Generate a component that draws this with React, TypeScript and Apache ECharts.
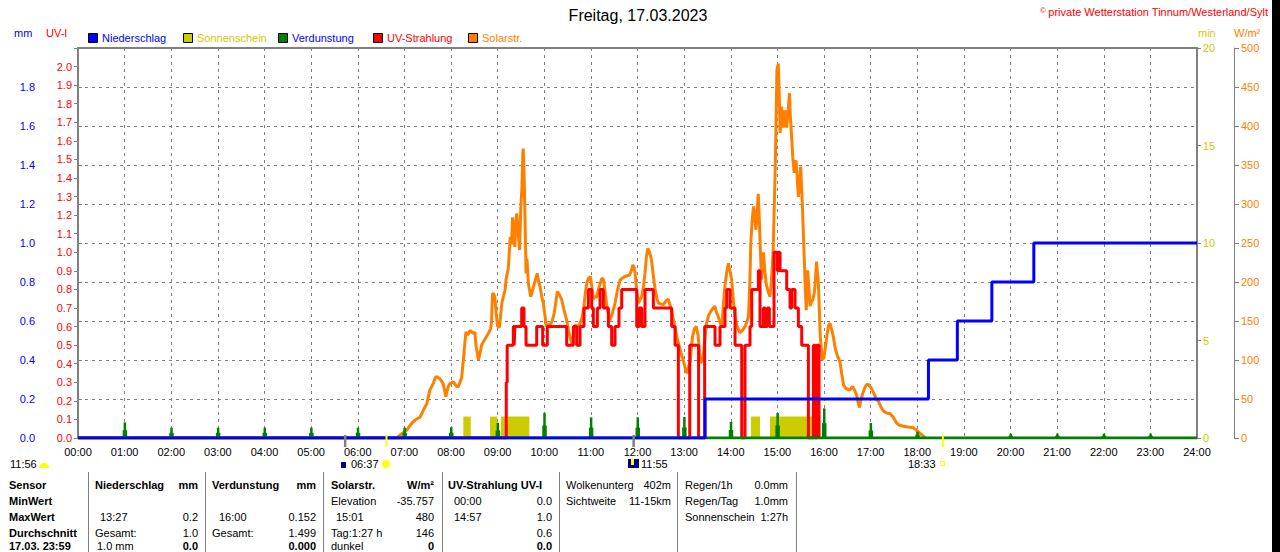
import React, { useEffect, useRef } from 'react';
import * as echarts from 'echarts';

const FONT = '"Liberation Sans", Arial, sans-serif';

const X_TICK_LABELS = ['00:00','01:00','02:00','03:00','04:00','05:00','06:00','07:00','08:00','09:00','10:00','11:00','12:00','13:00','14:00','15:00','16:00','17:00','18:00','19:00','20:00','21:00','22:00','23:00','24:00'];

// Niederschlag cumulative (mm) [hour, value]
const RAIN: number[][] = [[0,0],[13.45,0.2],[18.24,0.4],[18.86,0.6],[19.6,0.8],[20.5,1.0],[24,1.0]];

// Sonnenschein (min) [start hour, end hour, minutes]
const SUNSHINE: number[][] = [[8.264,8.423,1.1],[8.837,8.993,1.1],[9.072,9.68,1.1],[14.435,14.628,1.1],[14.842,15.83,1.1]];

// Verdunstung (mm) [hour, value]
const EVAP: number[][] = [[1,0.08],[2,0.053],[3,0.053],[4,0.053],[5,0.053],[6,0.053],[7,0.053],[8,0.055],[9,0.078],[10,0.128],[11,0.106],[12,0.106],[13,0.108],[14,0.082],[15,0.128],[16,0.152],[17,0.077],[18,0.032],[20,0.022],[21,0.022],[22,0.022],[23,0.022]];
const EVAP_BASE: number[][] = [[0,0],[24,0]];

// UV-Strahlung (UV-I) [hour, value], step
const UV: number[][] = [[0,0],[9.185,0.3],[9.205,0.5],[9.337,0.6],[9.355,0.5],[9.37,0.6],[9.516,0.7],[9.566,0.6],[9.609,0.5],[9.838,0.6],[9.966,0.5],[10.066,0.6],[10.481,0.5],[10.624,0.6],[10.696,0.5],[10.767,0.6],[10.853,0.7],[10.946,0.8],[11.017,0.7],[11.053,0.6],[11.139,0.7],[11.196,0.8],[11.268,0.7],[11.375,0.6],[11.446,0.5],[11.518,0.6],[11.603,0.7],[11.661,0.8],[11.983,0.6],[12.04,0.7],[12.09,0.6],[12.161,0.8],[12.34,0.7],[12.733,0.6],[12.805,0.5],[12.876,0],[13.12,0.5],[13.31,0],[13.44,0.6],[13.663,0.5],[13.77,0.6],[13.877,0.7],[13.913,0.8],[13.985,0.7],[14.092,0.5],[14.235,0],[14.306,0.5],[14.413,0.6],[14.449,0.8],[14.592,0.9],[14.628,0.6],[14.7,0.7],[14.735,0.6],[14.785,0.7],[14.828,0.6],[14.928,1.0],[14.999,0.9],[15.028,1.0],[15.057,0.9],[15.2,0.8],[15.272,0.7],[15.307,0.8],[15.379,0.7],[15.45,0.6],[15.522,0.5],[15.665,0],[15.772,0.5],[15.808,0],[15.844,0.5],[15.894,0]];

// Solarstrahlung (W/m²) [hour, value]
const SOLAR: number[][] = [[6.83,0],[6.98,7],[7.05,10],[7.16,19],[7.23,23],[7.34,27],[7.41,36],[7.48,44],[7.55,62],[7.62,70],[7.66,77],[7.69,79],[7.76,76],[7.83,70],[7.86,62],[7.89,53],[7.94,66],[7.98,70],[8.05,72],[8.12,66],[8.16,66],[8.23,78],[8.28,110],[8.32,136],[8.36,132],[8.41,138],[8.48,134],[8.51,136],[8.54,117],[8.59,100],[8.62,108],[8.66,120],[8.72,126],[8.8,134],[8.85,140],[8.87,150],[8.89,185],[8.91,185],[8.94,181],[8.97,159],[9.0,143],[9.04,142],[9.09,173],[9.13,183],[9.16,190],[9.18,203],[9.23,218],[9.27,258],[9.3,248],[9.32,283],[9.35,260],[9.37,245],[9.39,275],[9.41,288],[9.44,265],[9.47,241],[9.5,300],[9.52,318],[9.54,365],[9.55,371],[9.57,330],[9.59,275],[9.61,211],[9.63,230],[9.66,198],[9.71,181],[9.77,194],[9.82,205],[9.85,211],[9.88,200],[9.91,194],[9.95,180],[9.98,173],[10.02,155],[10.04,143],[10.08,146],[10.12,145],[10.17,150],[10.21,159],[10.25,175],[10.28,188],[10.32,184],[10.37,178],[10.42,165],[10.48,151],[10.53,135],[10.59,121],[10.63,132],[10.66,145],[10.7,143],[10.75,145],[10.8,152],[10.84,164],[10.88,185],[10.91,198],[10.95,205],[10.99,207],[11.02,195],[11.05,178],[11.09,182],[11.12,180],[11.16,190],[11.2,198],[11.24,205],[11.27,203],[11.31,185],[11.34,169],[11.38,158],[11.41,151],[11.46,160],[11.52,173],[11.57,190],[11.63,203],[11.68,205],[11.73,207],[11.78,208],[11.83,209],[11.87,215],[11.9,222],[11.93,218],[11.95,211],[11.98,190],[12.02,173],[12.06,178],[12.09,181],[12.13,195],[12.16,211],[12.19,232],[12.22,243],[12.26,238],[12.3,228],[12.34,208],[12.38,190],[12.42,178],[12.45,173],[12.5,172],[12.56,171],[12.61,176],[12.66,178],[12.7,170],[12.73,164],[12.77,152],[12.8,143],[12.85,128],[12.9,117],[12.94,108],[12.98,100],[13.02,90],[13.06,83],[13.09,90],[13.13,98],[13.16,118],[13.18,130],[13.22,140],[13.26,143],[13.3,131],[13.33,110],[13.36,96],[13.41,104],[13.45,130],[13.48,147],[13.53,158],[13.59,164],[13.66,169],[13.7,160],[13.73,156],[13.77,148],[13.81,143],[13.84,170],[13.88,198],[13.92,215],[13.95,224],[13.98,215],[14.02,203],[14.05,180],[14.09,156],[14.14,142],[14.2,135],[14.25,138],[14.31,143],[14.35,150],[14.38,156],[14.41,200],[14.43,250],[14.46,280],[14.49,297],[14.52,280],[14.54,267],[14.57,295],[14.59,313],[14.61,285],[14.63,250],[14.66,203],[14.68,222],[14.7,238],[14.73,215],[14.76,198],[14.8,188],[14.84,181],[14.87,200],[14.91,241],[14.93,290],[14.95,335],[14.97,400],[14.99,472],[15.02,480],[15.04,440],[15.06,391],[15.09,425],[15.11,405],[15.13,398],[15.16,420],[15.18,410],[15.2,398],[15.23,420],[15.26,442],[15.28,410],[15.31,382],[15.33,360],[15.36,340],[15.38,352],[15.4,356],[15.43,330],[15.45,309],[15.48,330],[15.5,348],[15.52,320],[15.54,292],[15.57,241],[15.6,190],[15.62,164],[15.65,215],[15.68,190],[15.7,169],[15.73,175],[15.76,177],[15.79,185],[15.81,198],[15.84,226],[15.86,210],[15.88,198],[15.9,165],[15.92,130],[15.95,110],[15.97,100],[16.0,104],[16.04,120],[16.07,134],[16.1,145],[16.13,147],[16.16,140],[16.2,130],[16.24,115],[16.29,105],[16.34,98],[16.38,82],[16.42,68],[16.46,64],[16.52,62],[16.56,62],[16.61,66],[16.65,62],[16.7,55],[16.73,46],[16.76,39],[16.79,48],[16.83,57],[16.88,65],[16.92,69],[16.96,68],[16.99,66],[17.03,62],[17.08,56],[17.13,49],[17.17,47],[17.22,40],[17.27,35],[17.34,32],[17.42,31],[17.48,27],[17.52,23],[17.56,19],[17.6,17],[17.65,16],[17.7,15],[17.8,14],[17.92,13],[17.98,10],[18.06,6],[18.1,4],[18.14,2],[18.16,0]];

// Sun / moon markers below the time axis [hour, kind 0=grey 1=yellow]
const MARKERS: number[][] = [[5.73,0],[6.617,1],[11.917,0],[18.55,1]];

const LEGEND = [
  { name: 'Niederschlag', color: '#0000ff', text: '#0000ff', x: 88 },
  { name: 'Sonnenschein', color: '#cccc00', text: '#cccc00', x: 183 },
  { name: 'Verdunstung', color: '#008000', text: '#0000ff', x: 278 },
  { name: 'UV-Strahlung', color: '#ff0000', text: '#ff0000', x: 373 },
  { name: 'Solarstr.', color: '#ff8000', text: '#ff8000', x: 468 },
];

// Table: [text, x, row, align, bold]
const TABLE: [string, number, number, string, boolean][] = [
  ['Sensor', 9, 0, 'left', true], ['MinWert', 9, 1, 'left', true], ['MaxWert', 9, 2, 'left', true], ['Durchschnitt', 9, 3, 'left', true], ['17.03. 23:59', 9, 4, 'left', true],
  ['Niederschlag', 95, 0, 'left', true], ['mm', 198, 0, 'right', true],
  ['13:27', 100, 2, 'left', false], ['0.2', 198, 2, 'right', false],
  ['Gesamt:', 95, 3, 'left', false], ['1.0', 198, 3, 'right', false],
  ['1.0 mm', 97, 4, 'left', false], ['0.0', 198, 4, 'right', true],
  ['Verdunstung', 212, 0, 'left', true], ['mm', 316, 0, 'right', true],
  ['16:00', 219, 2, 'left', false], ['0.152', 316, 2, 'right', false],
  ['Gesamt:', 212, 3, 'left', false], ['1.499', 316, 3, 'right', false],
  ['0.000', 316, 4, 'right', true],
  ['Solarstr.', 331, 0, 'left', true], ['W/m²', 434, 0, 'right', true],
  ['Elevation', 331, 1, 'left', false], ['-35.757', 434, 1, 'right', false],
  ['15:01', 336, 2, 'left', false], ['480', 434, 2, 'right', false],
  ['Tag:1:27 h', 331, 3, 'left', false], ['146', 434, 3, 'right', false],
  ['dunkel', 331, 4, 'left', false], ['0', 434, 4, 'right', true],
  ['UV-Strahlung UV-I', 448, 0, 'left', true],
  ['00:00', 454, 1, 'left', false], ['0.0', 552, 1, 'right', false],
  ['14:57', 454, 2, 'left', false], ['1.0', 552, 2, 'right', false],
  ['0.6', 552, 3, 'right', false], ['0.0', 552, 4, 'right', true],
  ['Wolkenunterg', 566, 0, 'left', false], ['402m', 671, 0, 'right', false],
  ['Sichtweite', 566, 1, 'left', false], ['11-15km', 671, 1, 'right', false],
  ['Regen/1h', 685, 0, 'left', false], ['0.0mm', 788, 0, 'right', false],
  ['Regen/Tag', 685, 1, 'left', false], ['1.0mm', 788, 1, 'right', false],
  ['Sonnenschein', 685, 2, 'left', false], ['1:27h', 788, 2, 'right', false],
];
const TABLE_ROWS_Y = [485, 501, 517, 533, 545.5];
const TABLE_SEPARATORS = [88, 205, 323, 442, 559, 677, 796];

function txt(text: string, x: number, y: number, fill: string, size = 11, align = 'left', weight = 'normal') {
  return {
    type: 'text', silent: true,
    style: { text, x, y, fill, fontSize: size, fontFamily: FONT, fontWeight: weight, textAlign: align, textVerticalAlign: 'middle' },
  };
}

export default function App() {
  const ref = useRef<HTMLDivElement>(null);
  useEffect(() => {
    if (!ref.current) return;
    const chart = echarts.init(ref.current, undefined, { renderer: 'svg' });

    const graphic: any[] = [];
    graphic.push(txt('Freitag, 17.03.2023', 638, 15, '#000000', 16, 'center'));
    graphic.push(txt('©', 1040, 10, '#ff0000', 8, 'left'));
    graphic.push(txt('private Wetterstation Tinnum/Westerland/Sylt', 1268, 12, '#ff0000', 11, 'right'));
    graphic.push(txt('mm', 14, 33, '#0000ff', 11, 'left'));
    graphic.push(txt('UV-I', 46, 33, '#ff0000', 11, 'left'));
    graphic.push(txt('min', 1198, 33, '#cccc00', 11, 'left'));
    graphic.push(txt('W/m²', 1234, 33, '#ff8000', 11, 'left'));
    LEGEND.forEach((l) => {
      graphic.push({ type: 'rect', silent: true, shape: { x: l.x + 0.5, y: 33.5, width: 9, height: 9 }, style: { fill: l.color, stroke: '#000000', lineWidth: 1 } });
      graphic.push(txt(l.name, l.x + 14, 38, l.text, 11, 'left'));
    });
    graphic.push(txt('11:56', 10, 464, '#000000', 11, 'left'));
    graphic.push({ type: 'sector', silent: true, shape: { cx: 44, cy: 468, r: 5, r0: 0, startAngle: Math.PI, endAngle: Math.PI * 2 }, style: { fill: '#ffff00' } });
    graphic.push({ type: 'rect', silent: true, shape: { x: 341, y: 462, width: 5, height: 6 }, style: { fill: '#000080' } });
    graphic.push(txt('06:37', 351, 464, '#000000', 11, 'left'));
    graphic.push({ type: 'circle', silent: true, shape: { cx: 386, cy: 464, r: 5 }, style: { fill: '#ffffa0' } });
    graphic.push({ type: 'circle', silent: true, shape: { cx: 386, cy: 464, r: 3.5 }, style: { fill: '#ffff00' } });
    graphic.push({ type: 'rect', silent: true, shape: { x: 628, y: 459, width: 11, height: 9 }, style: { fill: '#000080' } });
    graphic.push({ type: 'rect', silent: true, shape: { x: 631, y: 459, width: 3, height: 6 }, style: { fill: '#ffff00' } });
    graphic.push(txt('11:55', 641, 464, '#000000', 11, 'left'));
    graphic.push(txt('18:33', 908, 464, '#000000', 11, 'left'));
    graphic.push({ type: 'rect', silent: true, shape: { x: 940.5, y: 461.5, width: 4, height: 4 }, style: { fill: 'none', stroke: '#ffff00', lineWidth: 1 } });
    TABLE_SEPARATORS.forEach((x) => {
      graphic.push({ type: 'line', silent: true, shape: { x1: x + 0.5, y1: 472, x2: x + 0.5, y2: 552 }, style: { stroke: '#808080', lineWidth: 1 } });
    });
    TABLE.forEach(([t, x, r, a, b]) => {
      graphic.push(txt(t, x, TABLE_ROWS_Y[r], '#000000', 11, a, b ? 'bold' : 'normal'));
    });
    graphic.push({ type: 'rect', silent: true, shape: { x: 1272, y: 0, width: 8, height: 552 }, style: { fill: '#000000' } });

    const option: any = {
      animation: false,
      backgroundColor: '#ffffff',
      textStyle: { fontFamily: FONT },
      grid: { left: 78, right: 83, top: 48, bottom: 114, show: true, borderColor: '#808080', borderWidth: 2, backgroundColor: 'transparent' },
      xAxis: {
        type: 'value', min: 0, max: 24, interval: 1,
        axisLine: { show: false }, axisTick: { show: false },
        axisLabel: { color: '#000000', fontSize: 11, margin: 8, fontFamily: FONT, formatter: (v: number) => X_TICK_LABELS[Math.round(v)] ?? '' },
        splitLine: { show: true, lineStyle: { color: '#808080', width: 1, type: [3, 4] } },
      },
      yAxis: [
        {
          type: 'value', position: 'left', offset: 37, min: 0, max: 2, interval: 0.2,
          axisLine: { show: true, lineStyle: { color: '#808080', width: 1 } },
          axisTick: { show: true, inside: true, length: 4, lineStyle: { color: '#808080' } },
          axisLabel: { color: '#0000ff', fontSize: 11, margin: 6, fontFamily: FONT, formatter: (v: number) => (v > 1.95 ? '' : v.toFixed(1)) },
          splitLine: { show: true, lineStyle: { color: '#808080', width: 1, type: [3, 4] } },
        },
        {
          type: 'value', position: 'left', offset: 0, min: 0, max: 2.1, interval: 0.1,
          axisLine: { show: true, lineStyle: { color: '#808080', width: 2 } },
          axisTick: { show: true, inside: false, length: 4, lineStyle: { color: '#808080' } },
          axisLabel: { color: '#ff0000', fontSize: 11, margin: 6, fontFamily: FONT, formatter: (v: number) => (v > 2.05 ? '' : v.toFixed(1)) },
          splitLine: { show: false },
        },
        {
          type: 'value', position: 'right', offset: 0, min: 0, max: 20, interval: 5,
          axisLine: { show: true, lineStyle: { color: '#808080', width: 2 } },
          axisTick: { show: true, inside: false, length: 4, lineStyle: { color: '#808080' } },
          axisLabel: { color: '#cccc00', fontSize: 11, margin: 6, fontFamily: FONT },
          splitLine: { show: false },
        },
        {
          type: 'value', position: 'right', offset: 37, min: 0, max: 500, interval: 50,
          axisLine: { show: true, lineStyle: { color: '#808080', width: 1 } },
          axisTick: { show: true, inside: false, length: 5, lineStyle: { color: '#808080' } },
          axisLabel: { color: '#ff8000', fontSize: 11, margin: 7, fontFamily: FONT },
          splitLine: { show: false },
        },
      ],
      series: [
        {
          type: 'custom', name: 'Sonnenschein', yAxisIndex: 2, data: SUNSHINE, encode: { x: [0, 1], y: 2 }, silent: true, z: 2,
          renderItem: (_p: any, api: any) => {
            const a = api.coord([api.value(0), api.value(2)]);
            const b = api.coord([api.value(1), 0]);
            return { type: 'rect', shape: { x: a[0], y: a[1], width: b[0] - a[0], height: b[1] - a[1] }, style: { fill: '#cccc00' } };
          },
        },
        {
          type: 'line', name: 'Solarstr.', yAxisIndex: 3, data: SOLAR, showSymbol: false, symbol: 'none', silent: true, z: 3,
          lineStyle: { color: '#ff8000', width: 3 }, itemStyle: { color: '#ff8000' },
        },
        {
          type: 'line', name: 'UV-Strahlung', yAxisIndex: 1, data: UV, step: 'end', showSymbol: false, symbol: 'none', silent: true, z: 4,
          lineStyle: { color: '#ff0000', width: 3 }, itemStyle: { color: '#ff0000' },
        },
        {
          type: 'line', name: 'Verdunstung-Basis', yAxisIndex: 0, data: EVAP_BASE, showSymbol: false, symbol: 'none', silent: true, z: 5,
          lineStyle: { color: '#008000', width: 3 }, itemStyle: { color: '#008000' },
        },
        {
          type: 'custom', name: 'Verdunstung', yAxisIndex: 0, data: EVAP, encode: { x: 0, y: 1 }, silent: true, z: 5,
          renderItem: (_p: any, api: any) => {
            const base = api.coord([api.value(0), 0]);
            const top = api.coord([api.value(0), api.value(1)]);
            const h = base[1] - top[1];
            return {
              type: 'group',
              children: [
                { type: 'rect', shape: { x: base[0] - 1, y: top[1], width: 2.5, height: h }, style: { fill: '#008000' } },
                { type: 'rect', shape: { x: base[0] - 2, y: base[1] - h * 0.5, width: 4.5, height: h * 0.5 }, style: { fill: '#008000' } },
              ],
            };
          },
        },
        {
          type: 'line', name: 'Niederschlag', yAxisIndex: 0, data: RAIN, step: 'end', showSymbol: false, symbol: 'none', silent: true, z: 6,
          lineStyle: { color: '#0000ff', width: 3 }, itemStyle: { color: '#0000ff' },
        },
        {
          type: 'custom', name: 'Marker', yAxisIndex: 0, data: MARKERS, encode: { x: 0 }, silent: true, clip: false, z: 7,
          renderItem: (_p: any, api: any) => {
            const p = api.coord([api.value(0), 0]);
            const yellow = api.value(1) === 1;
            return {
              type: 'line',
              shape: { x1: p[0], y1: p[1] - 3, x2: p[0], y2: p[1] + 9 },
              style: { stroke: yellow ? '#ffff00' : '#808080', lineWidth: yellow ? 2 : 2.5 },
            };
          },
        },
      ],
      graphic,
    };
    chart.setOption(option);
    return () => chart.dispose();
  }, []);
  return <div ref={ref} style={{ position: 'absolute', left: 0, top: 0, width: 1280, height: 552, background: '#fff' }} />;
}
